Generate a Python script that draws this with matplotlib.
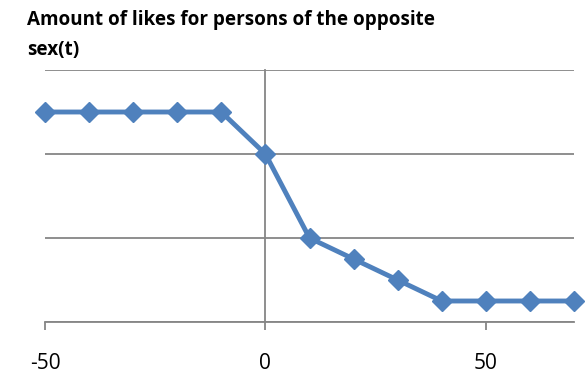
import matplotlib.pyplot as plt

plt.rcParams['axes.unicode_minus'] = False

# time relative to the event vs. likes
t = [-50, -40, -30, -20, -10, 0, 10, 20, 30, 40, 50, 60, 70]
likes = [2.5, 2.5, 2.5, 2.5, 2.5, 2.0, 1.0, 0.75, 0.5, 0.25, 0.25, 0.25, 0.25]
xticks = [-50, 0, 50]
yticks = [0, 1, 2, 3]

grey = '#868686'
blue = '#4F81BD'

fig = plt.figure(figsize=(5.85, 3.77), dpi=100)
ax = fig.add_axes([45 / 585, 1 - 322 / 377, (574 - 45) / 585, (322 - 70) / 377])

ax.plot(t, likes, color=blue, lw=3.5, marker='D', markersize=10.5,
        markeredgecolor=blue, clip_on=False, zorder=3)

ax.set_xlim(-50, 70)
ax.set_ylim(0, 3)
ax.set_xticks(xticks)
ax.set_yticks(yticks)
ax.set_yticklabels([])
ax.yaxis.grid(True, color=grey, lw=1.3)
ax.set_axisbelow(True)

for s in ['top', 'right']:
    ax.spines[s].set_visible(False)
ax.spines['left'].set_position(('data', 0))
ax.spines['left'].set_color(grey)
ax.spines['left'].set_linewidth(1.3)
ax.spines['bottom'].set_color(grey)
ax.spines['bottom'].set_linewidth(1.3)

ax.tick_params(axis='x', direction='out', length=6, width=1.3, color=grey,
               labelsize=15, pad=16)
ax.tick_params(axis='y', left=False)
for lab in ax.get_xticklabels():
    lab.set_fontfamily('Open Sans')

fig.text(27 / 585, 1 - 10 / 377, 'Amount of likes for persons of the opposite\nsex(t)',
         ha='left', va='top', fontsize=13.6, fontweight='bold', family='Open Sans',
         linespacing=1.65)

fig.savefig('out.png', dpi=100)
